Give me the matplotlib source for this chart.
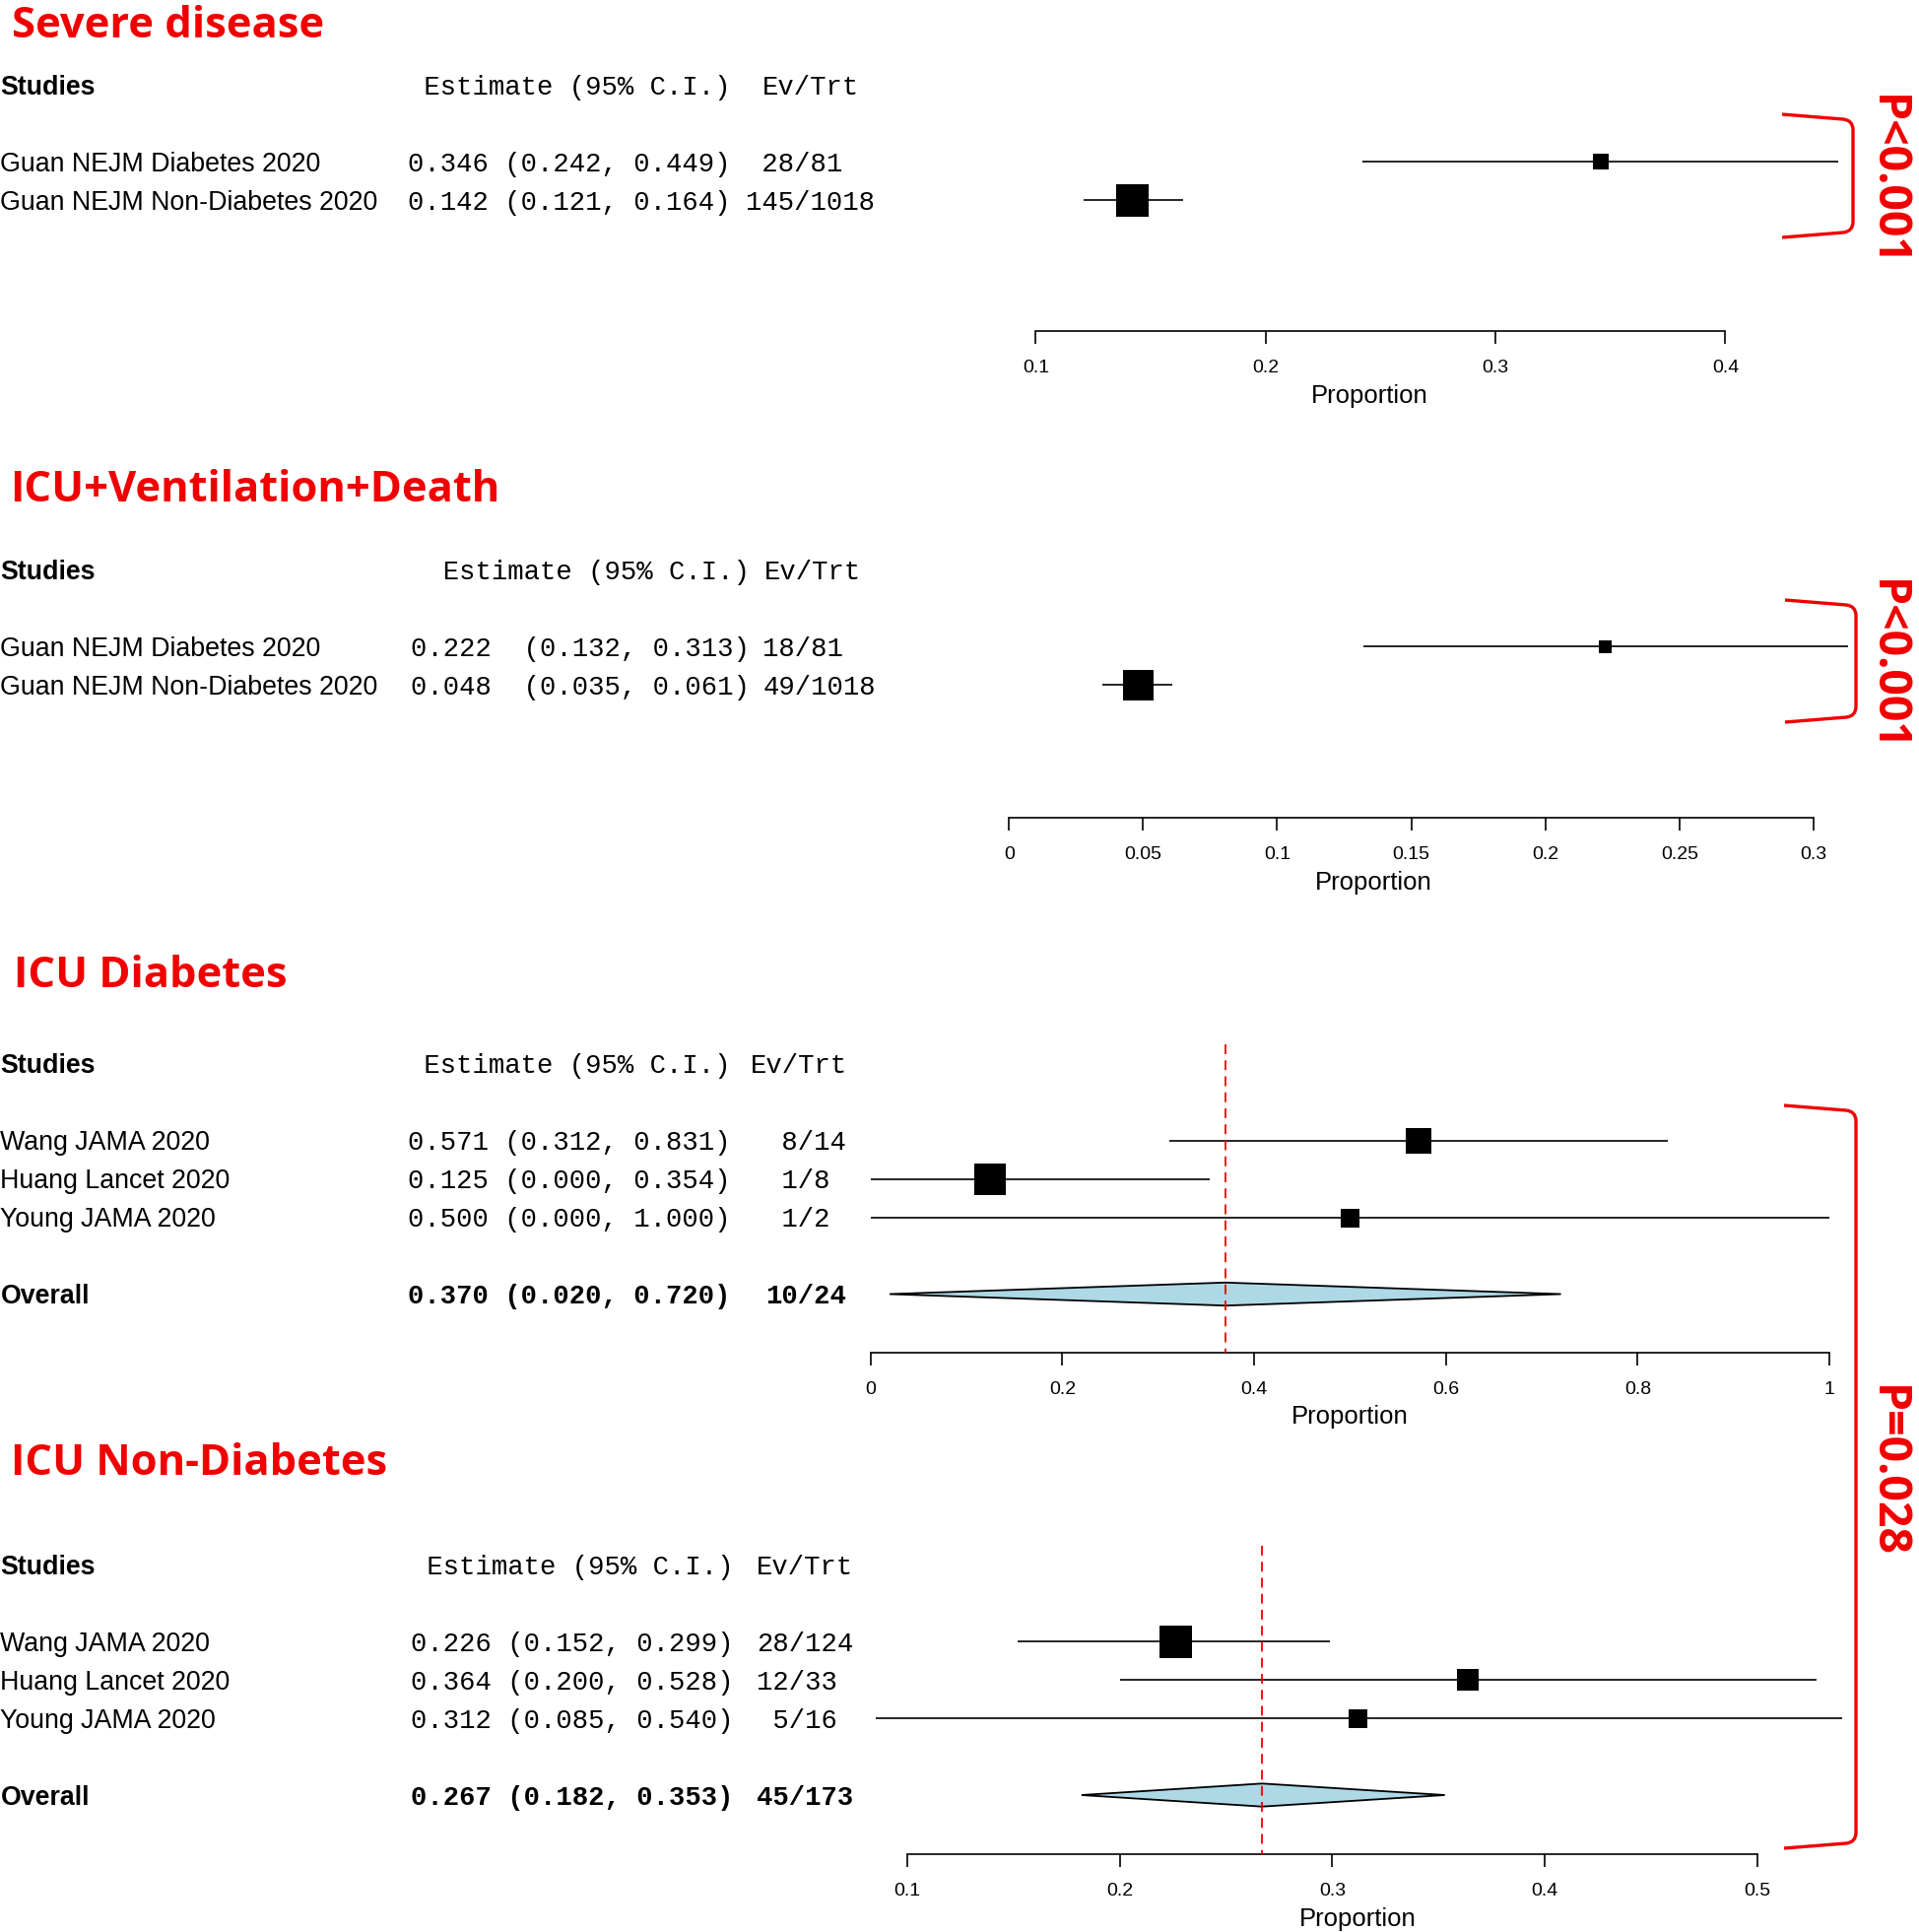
import matplotlib
matplotlib.use("Agg")
import matplotlib.pyplot as plt
from matplotlib import transforms
from matplotlib.path import Path
from matplotlib.patches import PathPatch

W, H = 1948, 1961
RED = "#f00000"
SANS = "Liberation Sans"
MONO = "Liberation Mono"
HEAD = "Open Sans"

# ---------------- data ----------------
guan_studies = ["Guan NEJM Diabetes 2020", "Guan NEJM Non-Diabetes 2020"]
icu_studies = ["Wang JAMA 2020", "Huang Lancet 2020", "Young JAMA 2020"]

severe_est = [0.346, 0.142]
severe_lo = [0.242, 0.121]
severe_hi = [0.449, 0.164]
severe_evtrt = ["28/81", "145/1018"]

icuvd_est = [0.222, 0.048]
icuvd_lo = [0.132, 0.035]
icuvd_hi = [0.313, 0.061]
icuvd_evtrt = ["18/81", "49/1018"]

icud_est = [0.571, 0.125, 0.500]
icud_lo = [0.312, 0.000, 0.000]
icud_hi = [0.831, 0.354, 1.000]
icud_evtrt = ["8/14", "1/8", "1/2"]
icud_overall = [0.370, 0.020, 0.720]
icud_overall_evtrt = "10/24"

icun_est = [0.226, 0.364, 0.312]
icun_lo = [0.152, 0.200, 0.085]
icun_hi = [0.299, 0.528, 0.540]
icun_evtrt = ["28/124", "12/33", "5/16"]
icun_overall = [0.267, 0.182, 0.353]
icun_overall_evtrt = "45/173"

severe_ticks = [0.1, 0.2, 0.3, 0.4]
severe_ticklabels = ["0.1", "0.2", "0.3", "0.4"]
icuvd_ticks = [0, 0.05, 0.1, 0.15, 0.2, 0.25, 0.3]
icuvd_ticklabels = ["0", "0.05", "0.1", "0.15", "0.2", "0.25", "0.3"]
icud_ticks = [0, 0.2, 0.4, 0.6, 0.8, 1.0]
icud_ticklabels = ["0", "0.2", "0.4", "0.6", "0.8", "1"]
icun_ticks = [0.1, 0.2, 0.3, 0.4, 0.5]
icun_ticklabels = ["0.1", "0.2", "0.3", "0.4", "0.5"]

p_labels = ["P<0.001", "P<0.001", "P=0.028"]

# ---------------- figure ----------------
fig = plt.figure(figsize=(W / 100, H / 100), dpi=100)
px = transforms.Affine2D().scale(1 / W, -1 / H).translate(0, 1) + fig.transFigure

ROW = 39.0
FS = 19.3
MFS = 19.6
CELL = 0.6 * MFS * 100 / 72   # monospace advance in pixels


def slash_align(items):
    # R pads ev/trt so that the slashes line up
    parts = [s.split("/") for s in items]
    wn = max(len(p[0]) for p in parts)
    return [p[0].rjust(wn) + "/" + p[1] for p in parts]


def forest(title, title_pos, names, est, lo, hi, evtrt, ticks, ticklabels,
           lay, overall=None, overall_evtrt=None):
    ticks_px = lay["tick_px"]
    scale = (ticks_px[1] - ticks_px[0]) / (ticks[-1] - ticks[0])
    xlim = lay["xlim"]
    left = ticks_px[0] + (xlim[0] - ticks[0]) * scale
    right = ticks_px[0] + (xlim[1] - ticks[0]) * scale
    row0, axis_y = lay["row0"], lay["axis_y"]
    top_row = -2.6
    axis_row = (axis_y - row0) / ROW
    top_px = row0 + top_row * ROW
    ax = fig.add_axes([left / W, 1 - axis_y / H, (right - left) / W,
                       (axis_y - top_px) / H])
    ax.set_xlim(xlim)
    ax.set_ylim(axis_row, top_row)
    ax.patch.set_visible(False)
    for s in ["left", "right", "top"]:
        ax.spines[s].set_visible(False)
    ax.spines["bottom"].set_bounds(ticks[0], ticks[-1])
    ax.spines["bottom"].set_linewidth(1.2)
    ax.set_yticks([])
    ax.set_xticks(ticks)
    ax.set_xticklabels(ticklabels, fontfamily=SANS, fontsize=14)
    ax.tick_params(axis="x", direction="out", length=9, width=1.2, pad=12)
    ax.set_xlabel("Proportion", fontfamily=SANS, fontsize=18.5, va="baseline")
    ax.xaxis.set_label_coords(0.5, -73 / (axis_y - top_px))

    rows = list(range(len(names)))
    ax.hlines(rows, lo, hi, color="black", lw=1.2)
    for r, e, b in zip(rows, est, lay["box_px"]):
        ax.plot(e, r, marker="s", ms=b * 0.72, color="black", mew=0)

    # text columns
    ttr = transforms.offset_copy(transforms.blended_transform_factory(px, ax.transData),
                                 fig=fig, y=-6.9, units="points")
    mx = lay["mono_x"]
    ex = mx + lay["ev_off"] * CELL
    ax.text(0.5, -2, "Studies", transform=ttr, fontfamily=SANS, fontsize=FS,
            fontweight="bold", va="baseline")
    ax.text(mx, -2, lay["est_head"], transform=ttr, fontfamily=MONO, fontsize=MFS,
            va="baseline")
    ax.text(mx + lay["head_off"] * CELL, -2, "Ev/Trt", transform=ttr,
            fontfamily=MONO, fontsize=MFS, va="baseline")

    all_ev = evtrt + ([overall_evtrt] if overall_evtrt else [])
    ev_str = slash_align(all_ev)
    for r, n, e, l, h, et in zip(rows, names, est, lo, hi, ev_str):
        ax.text(0.5, r, n, transform=ttr, fontfamily=SANS, fontsize=FS, va="baseline")
        s = f"{e:.3f}{lay['sep']}({l:.3f}, {h:.3f})"
        ax.text(mx, r, s, transform=ttr, fontfamily=MONO, fontsize=MFS, va="baseline")
        ax.text(ex, r, et, transform=ttr, fontfamily=MONO, fontsize=MFS, va="baseline")

    if overall is not None:
        oe, ol, oh = overall
        r = len(names) + 1
        ax.fill([ol, oe, oh, oe], [r, r - 0.3, r, r + 0.3], facecolor="#add8e6",
                edgecolor="black", lw=1.3, zorder=3)
        ax.plot([oe, oe], [-2.5, axis_row], color=RED, lw=1.3,
                ls=(0, (5.5, 3.5)), zorder=4)
        ax.text(0.5, r, "Overall", transform=ttr, fontfamily=SANS, fontsize=FS,
                fontweight="bold", va="baseline")
        ax.text(mx, r, f"{oe:.3f} ({ol:.3f}, {oh:.3f})", transform=ttr,
                fontfamily=MONO, fontsize=MFS, fontweight="bold", va="baseline")
        ax.text(ex, r, ev_str[-1], transform=ttr, fontfamily=MONO, fontsize=MFS,
                fontweight="bold", va="baseline")

    fig.text(title_pos[0] / W, 1 - title_pos[1] / H, title, color=RED,
             fontfamily=HEAD, fontweight="bold", fontsize=31.3, va="baseline")
    return ax


forest("Severe disease", (12, 38), guan_studies, severe_est, severe_lo, severe_hi,
       severe_evtrt, severe_ticks, severe_ticklabels,
       dict(tick_px=(1051.4, 1751.5), xlim=(0.035, 0.455), row0=164, axis_y=335.5,
            box_px=[16, 33], mono_x=414.2, sep=" ", ev_off=21, head_off=22,
            est_head=" Estimate (95% C.I.)"))

forest("ICU+Ventilation+Death", (10, 509), guan_studies, icuvd_est, icuvd_lo, icuvd_hi,
       icuvd_evtrt, icuvd_ticks, icuvd_ticklabels,
       dict(tick_px=(1024.2, 1841.0), xlim=(-0.045, 0.317), row0=656, axis_y=830,
            box_px=[13, 31], mono_x=416.7, sep="  ", ev_off=21.9, head_off=22.0,
            est_head="  Estimate (95% C.I.)"))

forest("ICU Diabetes", (14, 1002), icu_studies, icud_est, icud_lo, icud_hi,
       icud_evtrt, icud_ticks, icud_ticklabels,
       dict(tick_px=(883.6, 1857.2), xlim=(-0.02, 1.02), row0=1157.5, axis_y=1372.5,
            box_px=[26, 32, 19], mono_x=414.2, sep=" ", ev_off=22.2, head_off=21.3,
            est_head=" Estimate (95% C.I.)"),
       overall=icud_overall, overall_evtrt=icud_overall_evtrt)

forest("ICU Non-Diabetes", (11, 1497), icu_studies, icun_est, icun_lo, icun_hi,
       icun_evtrt, icun_ticks, icun_ticklabels,
       dict(tick_px=(921.0, 1783.7), xlim=(0.08, 0.544), row0=1666, axis_y=1881.5,
            box_px=[33, 22, 19], mono_x=416.7, sep=" ", ev_off=21.5, head_off=21.5,
            est_head=" Estimate (95% C.I.)"),
       overall=icun_overall, overall_evtrt=icun_overall_evtrt)


# ---------------- brackets with p-values ----------------
def bracket(xl, xr, yt, yb, label, ty):
    r = 10
    verts = [(xl, yt), (xr - r, yt + 5), (xr, yt + 6), (xr, yt + 6 + r),
             (xr, yb - 6 - r), (xr, yb - 6), (xr - r, yb - 5), (xl, yb)]
    codes = [Path.MOVETO, Path.LINETO, Path.CURVE3, Path.CURVE3,
             Path.LINETO, Path.CURVE3, Path.CURVE3, Path.LINETO]
    fig.add_artist(PathPatch(Path(verts, codes), transform=px, fill=False,
                             ec=RED, lw=2.4, capstyle="butt"))
    fig.text(1903 / W, 1 - ty / H, label, color=RED, fontfamily=HEAD,
             fontweight="bold", fontsize=33.5, rotation=-90, rotation_mode="anchor",
             ha="center", va="baseline")


bracket(1809, 1881, 116, 241, p_labels[0], 183)
bracket(1812, 1884, 609, 733, p_labels[1], 675)
bracket(1811, 1884, 1122, 1876, p_labels[2], 1493)

fig.savefig("out.png", dpi=100)
